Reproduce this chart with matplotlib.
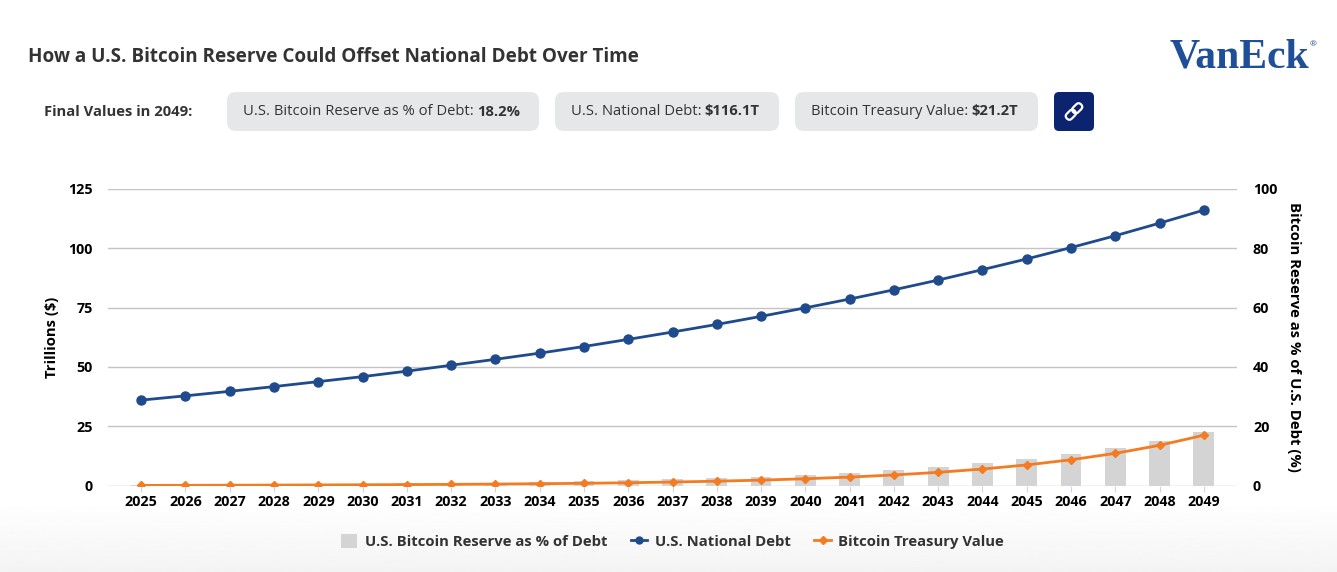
import matplotlib
matplotlib.use("Agg")
import matplotlib.pyplot as plt
from matplotlib.patches import FancyBboxPatch, Rectangle
from matplotlib.lines import Line2D
from matplotlib.transforms import Affine2D
import numpy as np

plt.rcParams['font.family'] = ['Open Sans', 'DejaVu Sans']

years = list(range(2025, 2050))
debt = [36.0, 37.8, 39.7, 41.7, 43.8, 45.9, 48.2, 50.7, 53.2, 55.8, 58.6, 61.6, 64.7,
        67.9, 71.3, 74.9, 78.6, 82.5, 86.6, 91.0, 95.5, 100.3, 105.3, 110.6, 116.1]
btc_value = [0.03, 0.07, 0.12, 0.18, 0.24, 0.31, 0.38, 0.48, 0.60, 0.75, 0.93, 1.16, 1.46,
             1.82, 2.27, 2.84, 3.55, 4.44, 5.55, 6.94, 8.67, 10.84, 13.55, 16.94, 21.2]
reserve_pct = [0.1, 0.2, 0.3, 0.4, 0.5, 0.6, 0.7, 0.8, 0.9, 1.1, 1.4, 1.7, 2.1,
               2.5, 3.0, 3.6, 4.3, 5.3, 6.2, 7.6, 8.9, 10.7, 12.7, 15.1, 18.2]

pills = [("U.S. Bitcoin Reserve as % of Debt:", "18.2%"),
         ("U.S. National Debt:", "$116.1T"),
         ("Bitcoin Treasury Value:", "$21.2T")]

navy = '#1f4a8c'
orange = '#f47b20'
bar_gray = '#d4d4d4'
txt = '#333333'

fig = plt.figure(figsize=(13.37, 5.72), dpi=100)

# background / header layer in pixel coordinates
bg = fig.add_axes([0, 0, 1, 1], zorder=0)
bg.set_xlim(0, 1337)
bg.set_ylim(572, 0)
bg.axis('off')
grad = np.linspace(1.0, 0.955, 50).reshape(-1, 1)
bg.imshow(grad, extent=[0, 1337, 572, 500], aspect='auto', cmap='gray', vmin=0, vmax=1)

bg.text(28, 57, "How a U.S. Bitcoin Reserve Could Offset National Debt Over Time",
        fontsize=13.6, fontweight='bold', color=txt, va='center')
bg.text(44, 111.5, "Final Values in 2049:", fontsize=10.6, fontweight='bold', color=txt, va='center')

renderer = fig.canvas.get_renderer()
pill_x = [(227, 539), (555, 779), (795, 1038)]
for (lab, val), (x0, x1) in zip(pills, pill_x):
    bg.add_patch(FancyBboxPatch((x0, 92), x1 - x0, 39, boxstyle='round,pad=0,rounding_size=9',
                                fc='#e6e7e9', ec='none'))
    t = bg.text(x0 + 16, 111.5, lab, fontsize=10.6, color=txt, va='center')
    bb = t.get_window_extent(renderer)
    bg.text(bb.x1 + 3, 111.5, val, fontsize=10.6, fontweight='bold', color=txt, va='center')

# link button
bg.add_patch(FancyBboxPatch((1054, 92), 40, 39, boxstyle='round,pad=0,rounding_size=5',
                            fc='#0c2470', ec='none'))
rot = Affine2D().rotate_deg_around(1074, 111.5, -45) + bg.transData
for dx in (-4.5, 4.5):
    bg.add_patch(FancyBboxPatch((1074 + dx - 5.5, 108), 11, 7, boxstyle='round,pad=0,rounding_size=3.5',
                                fc='none', ec='white', lw=1.6, transform=rot))

# logo
bg.text(1239, 57, "VanEck", fontsize=30, fontweight='bold', family='Liberation Serif',
        color='#1f4f99', ha='center', va='center')
bg.text(1313, 45, "®", fontsize=6, color='#1f4f99', ha='center', va='center')

# chart
ax = fig.add_axes([108 / 1337, 1 - 485.5 / 572, 1129 / 1337, 296.5 / 572], zorder=2)
ax.patch.set_alpha(0)
x = np.arange(len(years))
ax.bar(x, reserve_pct, width=0.47, color=bar_gray, zorder=2)
ax.set_ylim(0, 100)
ax.set_xlim(-0.75, len(years) - 0.25)
ax.set_yticks(range(0, 101, 20))
ax.grid(axis='y', color='#c4c4c4', lw=1)
ax.set_axisbelow(True)
for s in ax.spines.values():
    s.set_visible(False)

ax2 = ax.twinx()
ax2.plot(x, debt, color=navy, lw=2, marker='o', ms=6.5, zorder=3)
ax2.plot(x, btc_value, color=orange, lw=2, marker='D', ms=4.5, zorder=4)
ax2.set_ylim(0, 125)
ax2.set_yticks(range(0, 126, 25))
for s in ax2.spines.values():
    s.set_visible(False)

ax.yaxis.tick_right()
ax.yaxis.set_label_position('right')
ax2.yaxis.tick_left()
ax2.yaxis.set_label_position('left')

ax.set_xticks(x)
ax.set_xticklabels([str(y) for y in years], fontsize=10.3, fontweight='bold', color='black')
ax.tick_params(axis='x', length=4, color='#ccd6eb', pad=3)
ax.tick_params(axis='y', length=0, pad=11.5, labelsize=10.3, labelcolor='black')
ax2.tick_params(axis='y', length=0, pad=11.2, labelsize=10.3, labelcolor='black')
for lab in ax.get_yticklabels() + ax2.get_yticklabels():
    lab.set_fontweight('bold')

ax2.set_ylabel("Trillions ($)", fontsize=10.7, fontweight='bold', color='black', va='center')
ax2.yaxis.set_label_coords(-0.0496, 0.5)
ax.set_ylabel("Bitcoin Reserve as % of U.S. Debt (%)", fontsize=10.7, fontweight='bold',
              color='black', rotation=270, va='center')
ax.yaxis.set_label_coords(1.0505, 0.5)

handles = [Rectangle((0, 0), 1, 1, fc=bar_gray, ec='none'),
           Line2D([], [], color=navy, lw=2, marker='o', ms=5),
           Line2D([], [], color=orange, lw=2, marker='D', ms=4)]
labels = ["U.S. Bitcoin Reserve as % of Debt", "U.S. National Debt", "Bitcoin Treasury Value"]
fig.legend(handles, labels, loc='center', bbox_to_anchor=(0.503, 0.054), ncol=3, frameon=False,
           prop={'weight': 'bold', 'size': 10.7}, handlelength=1.1, handleheight=1.1,
           columnspacing=1.6, handletextpad=0.5, labelcolor=txt)

fig.savefig("out.png", dpi=100)
